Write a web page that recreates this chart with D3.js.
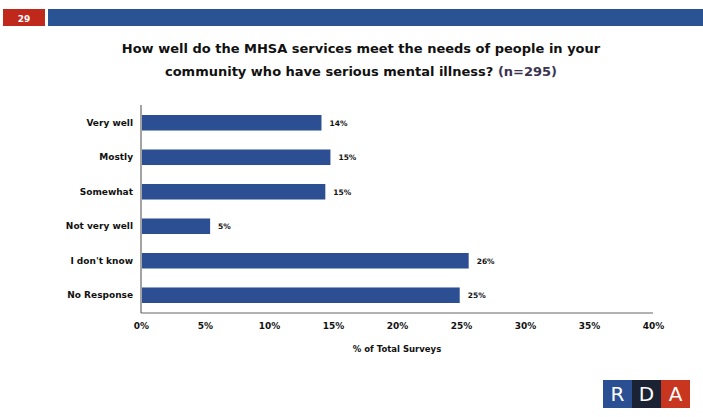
<!DOCTYPE html>
<html><head><meta charset="utf-8">
<script src="https://cdn.jsdelivr.net/npm/d3@7"></script>
<style>body{margin:0;background:#fff}svg{display:block}</style>
</head><body>
<script>
const categories = ["Very well","Mostly","Somewhat","Not very well","I don't know","No Response"];
const values = [14.1, 14.8, 14.4, 5.4, 25.6, 24.9];
const valueLabels = ["14%","15%","15%","5%","26%","25%"];
const tickValues = [0,5,10,15,20,25,30,35,40];
const titleLines = ["How well do the MHSA services meet the needs of people in your","community who have serious mental illness? "];
const titleSuffix = "(n=295)";
const xTitle = "% of Total Surveys";
const pageNumber = "29";

const W=703,H=417;
const svg=d3.select("body").append("svg").attr("width",W).attr("height",H);
const font="'DejaVu Sans', Verdana, sans-serif";
const barColor="#2b4f92";

// header
svg.append("rect").attr("x",3).attr("y",9).attr("width",42).attr("height",17).attr("fill","#c0281c");
svg.append("text").attr("x",24).attr("y",21.5).attr("text-anchor","middle").attr("fill","#fff")
  .attr("font-family",font).attr("font-weight","bold").attr("font-size",9).text(pageNumber);
svg.append("rect").attr("x",48).attr("y",9).attr("width",W-48).attr("height",17).attr("fill","#2a5394");

// title
const t=svg.append("g").attr("font-family",font).attr("font-weight","bold").attr("font-size",13).attr("text-anchor","middle");
t.append("text").attr("x",361).attr("y",53).attr("fill","#111").text(titleLines[0]);
const t2=t.append("text").attr("x",361).attr("y",76).attr("fill","#111");
t2.append("tspan").text(titleLines[1]);
t2.append("tspan").attr("fill","#3b3350").text(titleSuffix);

const x=d3.scaleLinear().domain([0,40]).range([141,653]);
const y=d3.scaleBand().domain(categories).range([105,313]).paddingInner(0.55).paddingOuter(0.29);

// axes lines
svg.append("line").attr("x1",141).attr("x2",141).attr("y1",105).attr("y2",313).attr("stroke","#666").attr("stroke-width",1.2);
svg.append("line").attr("x1",141).attr("x2",653).attr("y1",313).attr("y2",313).attr("stroke","#666").attr("stroke-width",1.2);

svg.selectAll("rect.bar").data(categories).join("rect").attr("class","bar")
  .attr("x",x(0)+1).attr("y",d=>y(d)).attr("height",y.bandwidth())
  .attr("width",(d,i)=>x(values[i])-x(0)-1).attr("fill",barColor);

svg.selectAll("text.val").data(categories).join("text").attr("class","val")
  .attr("x",(d,i)=>x(values[i])+8).attr("y",d=>y(d)+y.bandwidth()/2+3)
  .attr("font-family",font).attr("font-weight","bold").attr("font-size",7.5).attr("fill","#111")
  .text((d,i)=>valueLabels[i]);

svg.selectAll("text.cat").data(categories).join("text").attr("class","cat")
  .attr("x",133).attr("y",d=>y(d)+y.bandwidth()/2+3)
  .attr("text-anchor","end").attr("font-family",font).attr("font-weight","bold").attr("font-size",9).attr("fill","#111")
  .text(d=>d);

const xa=svg.append("g").attr("transform","translate(0,313)")
  .call(d3.axisBottom(x).tickValues(tickValues).tickSize(0).tickPadding(10).tickFormat(d=>d+"%"));
xa.select(".domain").remove();
xa.selectAll("text").attr("font-family",font).attr("font-weight","bold").attr("font-size",9).attr("fill","#111");

svg.append("text").attr("x",397).attr("y",352).attr("text-anchor","middle")
  .attr("font-family",font).attr("font-weight","bold").attr("font-size",8.5).attr("fill","#111").text(xTitle);

// RDA logo
const logo=[["R","#2a4f92",603],["D","#1b2233",632],["A","#c8361f",661]];
logo.forEach(([l,c,lx])=>{
  svg.append("rect").attr("x",lx).attr("y",380).attr("width",29).attr("height",28).attr("fill",c);
  svg.append("text").attr("x",lx+14.5).attr("y",401).attr("text-anchor","middle").attr("fill","#fff")
    .attr("font-family",font).attr("font-size",20).text(l);
});
</script>
</body></html>
